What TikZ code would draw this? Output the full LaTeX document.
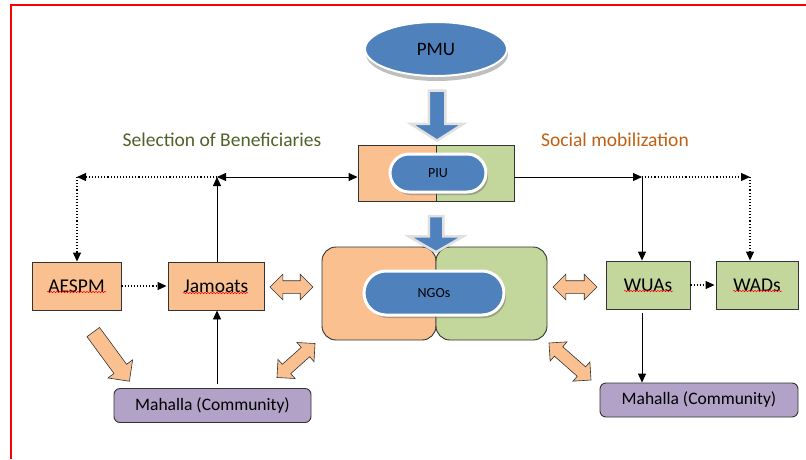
\documentclass[tikz,border=0pt]{standalone}
\usepackage{fontspec}
\setmainfont{Carlito}
\usetikzlibrary{shapes.geometric,shapes.arrows,shapes.misc,shadows,arrows.meta,calc,decorations.pathmorphing}
\definecolor{bfill}{HTML}{4F81BD}
\definecolor{ofill}{HTML}{FAC090}
\definecolor{gfill}{HTML}{C3D69B}
\definecolor{pfill}{HTML}{B2A2C7}
\definecolor{olivetxt}{HTML}{4F6228}
\definecolor{browntxt}{RGB}{192,96,20}
\definecolor{edge}{HTML}{333333}
\tikzset{
  bigtxt/.style={font=\fontsize{19.5}{22}\selectfont},
  box/.style={draw=edge, line width=0.9pt, minimum height=48pt, inner sep=0pt, bigtxt},
  halfbox/.style={draw=edge, line width=0.9pt, inner sep=0pt},
  pill/.style={rounded rectangle, fill=bfill, draw=white, line width=3pt, inner sep=0pt,
    font=\fontsize{14}{16}\selectfont,
    drop shadow={shadow xshift=2pt, shadow yshift=-3pt, opacity=0.45, fill=black!60}},
  commbox/.style={draw=edge, line width=0.9pt, fill=pfill, rounded corners=6pt, inner sep=0pt,
    minimum height=34pt, font=\fontsize{17.5}{20}\selectfont},
  conn/.style={-{Triangle[length=9pt,width=8pt]}, line width=0.9pt, draw=black},
  dconn/.style={{Triangle[length=9pt,width=8pt]}-{Triangle[length=9pt,width=8pt]}, line width=0.9pt, draw=black},
  dots/.style={dotted, line width=1.1pt, -{Triangle[length=9pt,width=8pt]}},
  obarrow/.style={single arrow, draw=edge, fill=ofill, line width=0.6pt, inner xsep=0pt},
  odarrow/.style={double arrow, draw=edge, fill=ofill, line width=0.6pt, inner xsep=0pt},
  blarrow/.style={single arrow, draw=black!12, fill=bfill, line width=2.5pt, inner xsep=0pt},
  spell/.style={draw=red, line width=0.5pt, decorate,
    decoration={snake, segment length=3pt, amplitude=0.7pt}}
}
\begin{document}
\begin{tikzpicture}[x=1pt,y=-1pt]
\useasboundingbox (0,0) rectangle (806,459);
% red frame
\draw[red, line width=1.3pt] (11,459) -- (11,5) -- (806,5);

% PMU
\node[ellipse, fill=bfill, draw=white, line width=2pt, minimum width=142pt, minimum height=54pt,
  inner sep=0pt, font=\fontsize{19}{22}\selectfont,
  drop shadow={shadow xshift=1pt, shadow yshift=-5pt, opacity=0.5, fill=black!50}] (pmu) at (436,49) {PMU};

% headings
\node[bigtxt, text=olivetxt] (sel) at (222,140) {Selection of Beneficiaries};
\node[bigtxt, text=browntxt] (soc) at (615,140) {Social mobilization};

% PIU
\node[halfbox, fill=ofill, minimum width=78pt, minimum height=56pt] (piuL) at (397,173) {};
\node[halfbox, fill=gfill, minimum width=78pt, minimum height=56pt] (piuR) at (475,173) {};
\node[pill, minimum width=96pt, minimum height=38pt] (piu) at (438,173) {PIU};

% NGOs
\node[halfbox, fill=ofill, rounded corners=14pt, minimum width=114pt, minimum height=93pt] (ngoL) at (379,293.5) {};
\node[halfbox, fill=gfill, rounded corners=14pt, minimum width=111pt, minimum height=93pt] (ngoR) at (491.5,293.5) {};
\node[pill, minimum width=140pt, minimum height=44pt] (ngo) at (434,293) {NGOs};

% blue block arrows
\node[blarrow, rotate=-90, minimum height=50pt, inner ysep=7pt, single arrow head extend=18pt,
  single arrow tip angle=115] (a1) at (437,113) {};
\node[blarrow, rotate=-90, minimum height=36pt, inner ysep=6pt, single arrow head extend=20pt,
  single arrow tip angle=120] (a2) at (436,232) {};

% boxes
\node[box, fill=ofill, minimum width=89pt] (aespm) at (76.5,286) {AESPM};
\node[box, fill=ofill, minimum width=96pt] (jam) at (216,286) {Jamoats};
\node[box, fill=gfill, minimum width=84pt] (wuas) at (648,285) {WUAs};
\node[box, fill=gfill, minimum width=82pt] (wads) at (757,285) {WADs};
\node[commbox, minimum width=197pt] (mahL) at (212.5,405.5) {Mahalla (Community)};
\node[commbox, minimum width=198pt] (mahR) at (699,400) {Mahalla (Community)};

% spell-check underlines
\draw[spell] (47,292) -- (106,292);
\draw[spell] (183,293) -- (248,293);
\draw[spell] (624,291) -- (673,291);
\draw[spell] (733,291) -- (782,291);

% junction coordinates
\coordinate (jl) at (217,177);
\coordinate (al) at (77,177);
\coordinate (pr) at (642,177);
\coordinate (ar) at (750,177);

% left connectors
\draw[dconn] (jl) -- (jl -| piuL.west);
\draw[conn] (jam.north -| jl) -- (jl);
\draw[dots] (jl) -- (al);
\draw[dots] (al) -- (al |- aespm.north);
\draw[dots, shorten >=1pt] (aespm.east) -- (jam.west);
\draw[conn] (mahL.north -| jl) ++(0,-4) -- (jam.south -| jl);

% right connectors
\draw[conn] (piuR.east |- pr) -- (pr);
\draw[conn] (pr) -- (pr |- wuas.north);
\draw[dots] (pr) -- (ar);
\draw[dots] (ar) -- (ar |- wads.north);
\draw[dots, shorten >=1pt] (wuas.east) -- (wads.west);
\draw[conn, shorten <=4pt] (wuas.south -| pr) -- (mahR.north -| pr);

% orange block arrows
\node[odarrow, minimum height=43pt, inner ysep=6pt, double arrow head extend=6.5pt] (b1) at (291.5,287) {};
\node[odarrow, minimum height=44pt, inner ysep=6pt, double arrow head extend=6.5pt] (b2) at (575,287) {};
\node[obarrow, rotate=-53.7, minimum height=61pt, inner ysep=7.5pt, single arrow head extend=7.5pt] (b3) at (109,353.5) {};
\node[odarrow, rotate=41.8, minimum height=51pt, inner ysep=6pt, double arrow head extend=6.5pt] (b4) at (296,360.5) {};
\node[odarrow, rotate=-41.4, minimum height=56pt, inner ysep=6pt, double arrow head extend=6.5pt] (b5) at (570,361.5) {};
\end{tikzpicture}
\end{document}
